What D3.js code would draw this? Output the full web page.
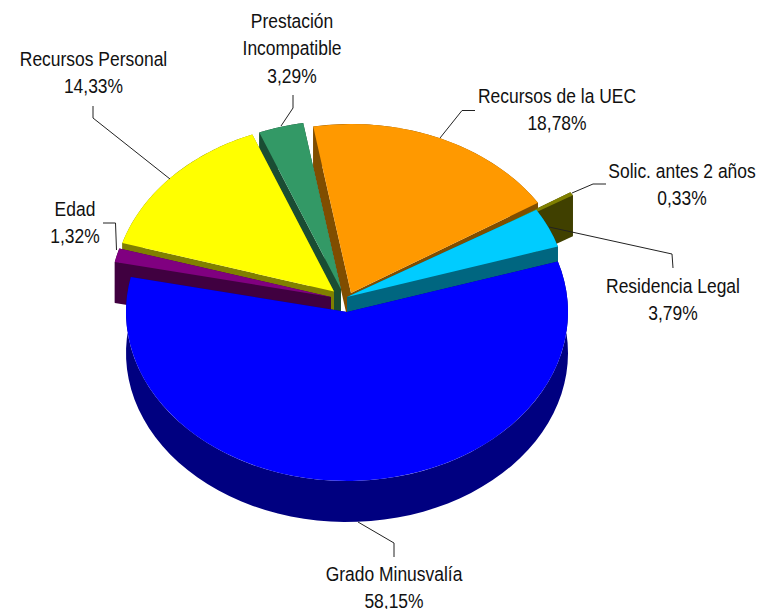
<!DOCTYPE html>
<html>
<head>
<meta charset="utf-8">
<script src="https://cdn.jsdelivr.net/npm/d3@7/dist/d3.min.js"></script>
<style>
html,body{margin:0;padding:0;background:#fff;overflow:hidden}
svg{display:block}
text{font-family:"Liberation Sans",Arial,sans-serif;font-size:19.5px;fill:#111;text-anchor:middle}
</style>
</head>
<body>
<svg id="c" width="758" height="609"></svg>
<script>
// Data, in the pie's clockwise order
const categories = ["Grado Minusvalía","Edad","Recursos Personal","Prestación Incompatible","Recursos de la UEC","Solic. antes 2 años","Residencia Legal"];
const values = [58.15,1.32,14.33,3.29,18.78,0.33,3.79];
const topColors = ["#0000ff","#800080","#ffff00","#339966","#ff9900","#808000","#00ccff"];
const wallColors = ["#000080","#400040","#808000","#1a4d33","#804d00","#404000","#006680"];
const labelLines = [["Grado Minusvalía"],["Edad"],["Recursos Personal"],["Prestación","Incompatible"],["Recursos de la UEC"],["Solic. antes 2 años"],["Residencia Legal"]];

// Layout
const rx = 221, ry = 169, depth = 41, startDeg = 72.6;
const centres = [[347,312],[331,297],[334,291.5],[341,289.5],[351,293],[383.5,282.5],[347,297]];
const paintOrder = [4,5,6,3,2,1,0];
const labelPos = [[394,581],[75,216],[93.5,66],[292,28],[557,103],[682,178],[673,293]];
const lineGap = 27.4, textSqueeze = 0.895;
const leaders = [
  [[394,557],[394,543],[358,522]],
  [[103,223],[115.5,223],[116.5,250]],
  [[93,106],[93,118],[170,179]],
  [[293,95],[293,108],[281,126]],
  [[475,110.5],[462,110.5],[440,138]],
  [[606,184],[593,184],[572,193]],
  [[673,268],[672,254],[549,227]]
];

const svg = d3.select("#c");
const start = startDeg * Math.PI / 180;
const pie = d3.pie().sort(null).startAngle(start).endAngle(start + 2 * Math.PI);
const arcs = pie(values);
const arcGen = d3.arc().innerRadius(0).outerRadius(rx);

function projector(c) {
  return (t, r = 1) => [c[0] + rx * r * Math.sin(t), c[1] - ry * r * Math.cos(t)];
}
const ribbon = d3.area().x(d => d[0]).y0(d => d[1]).y1(d => d[1] + depth);

paintOrder.forEach(i => {
  const a = arcs[i], c = centres[i], p = projector(c);
  const g = svg.append("g");
  const steps = d3.range(0, 61).map(k => a.startAngle + (a.endAngle - a.startAngle) * k / 60);
  // two radial walls and the outer wall
  [[p(a.startAngle, 0), p(a.startAngle)], [p(a.endAngle, 0), p(a.endAngle)], steps.map(t => p(t))]
    .forEach(pts => g.append("path").attr("d", ribbon(pts)).attr("fill", wallColors[i]));
  // top face
  g.append("path")
    .attr("d", arcGen(a))
    .attr("transform", `translate(${c[0]},${c[1]}) scale(1,${ry / rx})`)
    .attr("fill", topColors[i]);
});

const line = d3.line();
leaders.forEach(l => svg.append("path").attr("d", line(l)).attr("fill", "none").attr("stroke", "#222").attr("stroke-width", 1));

categories.forEach((name, i) => {
  const lines = labelLines[i].concat(values[i].toFixed(2).replace(".", ",") + "%");
  const t = svg.append("text").attr("transform", `translate(${labelPos[i][0]},${labelPos[i][1]}) scale(${textSqueeze},1)`);
  lines.forEach((s, k) => t.append("tspan").attr("x", 0).attr("y", k * lineGap).text(s));
});
</script>
</body>
</html>
